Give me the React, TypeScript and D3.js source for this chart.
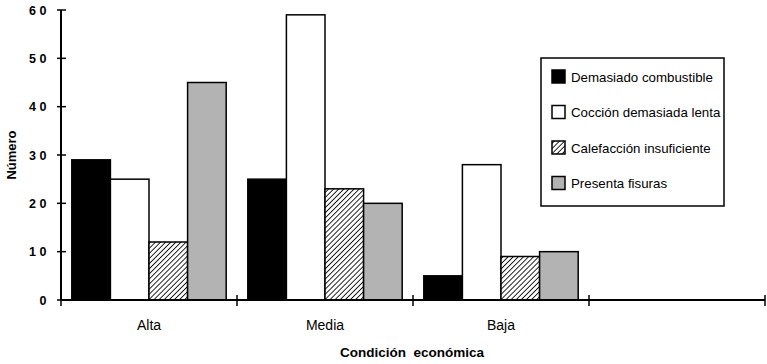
import React from 'react';
import * as d3 from 'd3';

const categories = ['Alta', 'Media', 'Baja', ''];
const seriesNames = ['Demasiado combustible', 'Cocción demasiada lenta', 'Calefacción insuficiente', 'Presenta fisuras'];
const combustible = [29, 25, 5];
const coccion = [25, 59, 28];
const calefaccion = [12, 23, 9];
const fisuras = [45, 20, 10];
const yTicks = [0, 10, 20, 30, 40, 50, 60];

const seriesValues = [combustible, coccion, calefaccion, fisuras];
const fills = ['#000', '#fff', 'url(#hatch)', '#b3b3b3'];

const W = 767;
const H = 364;
const margin = {left: 61, right: 2, top: 10, bottom: 64};

function App() {
    const plotBottom = H - margin.bottom;

    const x = d3.scaleBand()
        .domain(categories.map((c, i) => String(i)))
        .range([margin.left, W - margin.right])
        .paddingInner(0)
        .paddingOuter(0);

    const x1 = d3.scaleBand()
        .domain(seriesNames)
        .range([0, x.bandwidth()])
        .paddingOuter(0.28)
        .paddingInner(0);

    const y = d3.scaleLinear()
        .domain([0, 60])
        .range([plotBottom, margin.top]);

    const boundaries = d3.range(categories.length + 1)
        .map(i => margin.left + i * x.bandwidth());

    const font = '"Liberation Sans", Arial, sans-serif';
    const narrow = '"Liberation Sans Narrow", "Liberation Sans", Arial, sans-serif';

    return (
        <svg width={W} height={H} style={{position: 'absolute', left: 0, top: 0}}>
            <defs>
                <pattern id="hatch" patternUnits="userSpaceOnUse" width="3.6" height="3.6"
                         patternTransform="rotate(45)">
                    <rect width="3.6" height="3.6" fill="#fff" />
                    <line x1="0" y1="0" x2="0" y2="3.6" stroke="#000" strokeWidth="1.7" />
                </pattern>
            </defs>
            <rect width={W} height={H} fill="#fff" />

            {/* bars */}
            {categories.slice(0, 3).map((c, ci) => (
                <g key={c} transform={`translate(${x(String(ci))},0)`}>
                    {seriesValues.map((vals, si) => (
                        <rect key={si}
                              x={x1(seriesNames[si])}
                              y={y(vals[ci])}
                              width={x1.bandwidth()}
                              height={plotBottom - y(vals[ci])}
                              fill={fills[si]}
                              stroke="#000"
                              strokeWidth={1.5} />
                    ))}
                </g>
            ))}

            {/* y axis */}
            <line x1={margin.left} x2={margin.left} y1={margin.top} y2={plotBottom}
                  stroke="#000" strokeWidth={2} />
            {yTicks.map(t => (
                <g key={t}>
                    <line x1={margin.left - 4} x2={margin.left + 5} y1={y(t)} y2={y(t)}
                          stroke="#000" strokeWidth={1.5} />
                    <text x={50} y={y(t)} dy="0.36em" textAnchor="end"
                          fontFamily={font} fontWeight="bold" fontSize={12.5}
                          letterSpacing={3.5}>{t}</text>
                </g>
            ))}
            <text transform={`translate(16,${(margin.top + plotBottom) / 2}) rotate(-90)`}
                  textAnchor="middle" fontFamily={font} fontWeight="bold" fontSize={13}>Número</text>

            {/* x axis */}
            <line x1={margin.left} x2={W - margin.right} y1={plotBottom} y2={plotBottom}
                  stroke="#000" strokeWidth={2} />
            {boundaries.map((b, i) => (
                <line key={i} x1={b} x2={b} y1={plotBottom - 5} y2={plotBottom + 6}
                      stroke="#000" strokeWidth={1.5} />
            ))}
            {categories.map((c, i) => (
                <text key={i} x={(x(String(i)) ?? 0) + x.bandwidth() / 2} y={330}
                      textAnchor="middle" fontFamily={narrow} fontSize={14}>{c}</text>
            ))}
            <text x={412} y={357} textAnchor="middle" fontFamily={narrow}
                  fontWeight="bold" fontSize={13.5} style={{whiteSpace: 'pre'}}>Condición  económica</text>

            {/* legend */}
            <rect x={541} y={58} width={183} height={148} fill="#fff" stroke="#000" strokeWidth={1.5} />
            {seriesNames.map((s, i) => (
                <g key={s} transform={`translate(552,${77 + i * 35.5})`}>
                    <rect x={0} y={-7} width={13} height={13} fill={fills[i]} stroke="#000" strokeWidth={1.5} />
                    <text x={19} y={0} dy="0.36em" fontFamily={font} fontSize={13.3}>{s}</text>
                </g>
            ))}
        </svg>
    );
}

export default App;
